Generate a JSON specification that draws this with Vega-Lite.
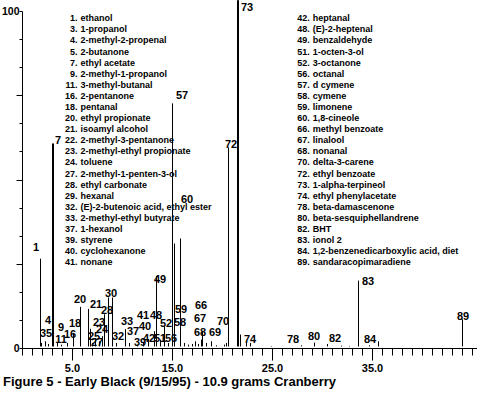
{
  "$schema": "https://vega.github.io/schema/vega-lite/v6.json",
  "width": 455,
  "height": 337,
  "autosize": {"type": "none"},
  "padding": {"left": 22, "top": 11, "right": 0, "bottom": 48},
  "background": "white",
  "config": {"view": {"stroke": null}, "font": "Liberation Sans"},
  "title": {
    "text": "Figure 5 - Early Black (9/15/95) - 10.9 grams Cranberry",
    "orient": "bottom", "anchor": "start", "frame": "group", "dx": -19, "offset": 3,
    "fontSize": 13, "fontWeight": "bold", "font": "Liberation Sans", "color": "black"
  },
  "datasets": {
    "legend": [
      {"col": 1, "row": 0, "num": "1.", "name": "ethanol"},
      {"col": 1, "row": 1, "num": "3.", "name": "1-propanol"},
      {"col": 1, "row": 2, "num": "4.", "name": "2-methyl-2-propenal"},
      {"col": 1, "row": 3, "num": "5.", "name": "2-butanone"},
      {"col": 1, "row": 4, "num": "7.", "name": "ethyl acetate"},
      {"col": 1, "row": 5, "num": "9.", "name": "2-methyl-1-propanol"},
      {"col": 1, "row": 6, "num": "11.", "name": "3-methyl-butanal"},
      {"col": 1, "row": 7, "num": "16.", "name": "2-pentanone"},
      {"col": 1, "row": 8, "num": "18.", "name": "pentanal"},
      {"col": 1, "row": 9, "num": "20.", "name": "ethyl propionate"},
      {"col": 1, "row": 10, "num": "21.", "name": "isoamyl alcohol"},
      {"col": 1, "row": 11, "num": "22.", "name": "2-methyl-3-pentanone"},
      {"col": 1, "row": 12, "num": "23.", "name": "2-methyl-ethyl propionate"},
      {"col": 1, "row": 13, "num": "24.", "name": "toluene"},
      {"col": 1, "row": 14, "num": "27.", "name": "2-methyl-1-penten-3-ol"},
      {"col": 1, "row": 15, "num": "28.", "name": "ethyl carbonate"},
      {"col": 1, "row": 16, "num": "29.", "name": "hexanal"},
      {"col": 1, "row": 17, "num": "32.", "name": "(E)-2-butenoic acid, ethyl ester"},
      {"col": 1, "row": 18, "num": "33.", "name": "2-methyl-ethyl butyrate"},
      {"col": 1, "row": 19, "num": "37.", "name": "1-hexanol"},
      {"col": 1, "row": 20, "num": "39.", "name": "styrene"},
      {"col": 1, "row": 21, "num": "40.", "name": "cyclohexanone"},
      {"col": 1, "row": 22, "num": "41.", "name": "nonane"},
      {"col": 2, "row": 0, "num": "42.", "name": "heptanal"},
      {"col": 2, "row": 1, "num": "48.", "name": "(E)-2-heptenal"},
      {"col": 2, "row": 2, "num": "49.", "name": "benzaldehyde"},
      {"col": 2, "row": 3, "num": "51.", "name": "1-octen-3-ol"},
      {"col": 2, "row": 4, "num": "52.", "name": "3-octanone"},
      {"col": 2, "row": 5, "num": "56.", "name": "octanal"},
      {"col": 2, "row": 6, "num": "57.", "name": "d cymene"},
      {"col": 2, "row": 7, "num": "58.", "name": "cymene"},
      {"col": 2, "row": 8, "num": "59.", "name": "limonene"},
      {"col": 2, "row": 9, "num": "60.", "name": "1,8-cineole"},
      {"col": 2, "row": 10, "num": "66.", "name": "methyl benzoate"},
      {"col": 2, "row": 11, "num": "67.", "name": "linalool"},
      {"col": 2, "row": 12, "num": "68.", "name": "nonanal"},
      {"col": 2, "row": 13, "num": "70.", "name": "delta-3-carene"},
      {"col": 2, "row": 14, "num": "72.", "name": "ethyl benzoate"},
      {"col": 2, "row": 15, "num": "73.", "name": "1-alpha-terpineol"},
      {"col": 2, "row": 16, "num": "74.", "name": "ethyl phenylacetate"},
      {"col": 2, "row": 17, "num": "78.", "name": "beta-damascenone"},
      {"col": 2, "row": 18, "num": "80.", "name": "beta-sesquiphellandrene"},
      {"col": 2, "row": 19, "num": "82.", "name": "BHT"},
      {"col": 2, "row": 20, "num": "83.", "name": "ionol 2"},
      {"col": 2, "row": 21, "num": "84.", "name": "1,2-benzenedicarboxylic acid, diet"},
      {"col": 2, "row": 22, "num": "89.", "name": "sandaracopimaradiene"}
    ],
    "peaks": [
      {"rt": 1.85, "h": 26.5}, {"rt": 1.95, "h": 1.5}, {"rt": 2.35, "h": 2.0}, {"rt": 2.65, "h": 1.2},
      {"rt": 3.05, "h": 60.7}, {"rt": 3.15, "h": 60.7}, {"rt": 3.55, "h": 1.5}, {"rt": 3.95, "h": 1.0},
      {"rt": 4.55, "h": 1.5}, {"rt": 5.15, "h": 4.5}, {"rt": 5.85, "h": 12.2}, {"rt": 6.65, "h": 11.6},
      {"rt": 6.85, "h": 5.7}, {"rt": 7.05, "h": 1.5}, {"rt": 7.35, "h": 2.5}, {"rt": 7.75, "h": 2.0},
      {"rt": 8.05, "h": 3.5}, {"rt": 8.25, "h": 10.0}, {"rt": 8.65, "h": 15.0}, {"rt": 9.05, "h": 15.0},
      {"rt": 9.45, "h": 1.5}, {"rt": 10.35, "h": 5.6}, {"rt": 10.75, "h": 1.5}, {"rt": 11.55, "h": 1.0},
      {"rt": 12.15, "h": 1.8}, {"rt": 12.65, "h": 2.5}, {"rt": 13.25, "h": 5.0}, {"rt": 13.45, "h": 21.4},
      {"rt": 13.85, "h": 2.5}, {"rt": 14.25, "h": 6.5}, {"rt": 14.65, "h": 1.5}, {"rt": 15.05, "h": 72.6},
      {"rt": 15.25, "h": 31.0}, {"rt": 15.85, "h": 32.5}, {"rt": 16.25, "h": 1.5}, {"rt": 16.65, "h": 1.0},
      {"rt": 17.05, "h": 1.2}, {"rt": 17.35, "h": 2.0}, {"rt": 17.65, "h": 1.2}, {"rt": 17.95, "h": 2.5},
      {"rt": 18.05, "h": 5.0}, {"rt": 18.45, "h": 1.5}, {"rt": 18.95, "h": 2.0}, {"rt": 19.45, "h": 0.8},
      {"rt": 20.25, "h": 1.0}, {"rt": 20.45, "h": 1.5}, {"rt": 20.65, "h": 59.5}, {"rt": 21.55, "h": 103.2},
      {"rt": 21.65, "h": 103.2}, {"rt": 21.85, "h": 4.0}, {"rt": 22.45, "h": 1.5}, {"rt": 22.85, "h": 1.5},
      {"rt": 24.95, "h": 0.6}, {"rt": 27.95, "h": 0.8}, {"rt": 29.25, "h": 1.6}, {"rt": 30.55, "h": 1.2},
      {"rt": 31.95, "h": 0.7}, {"rt": 32.75, "h": 0.6}, {"rt": 33.65, "h": 20.0}, {"rt": 34.75, "h": 0.8},
      {"rt": 35.65, "h": 2.0}, {"rt": 44.05, "h": 8.5}
    ],
    "labels": [
      {"id": "1", "rt": 1.4, "h": 29.7}, {"id": "7", "rt": 3.6, "h": 61.4}, {"id": "4", "rt": 2.6, "h": 8.0},
      {"id": "3", "rt": 2.1, "h": 4.2}, {"id": "5", "rt": 2.7, "h": 4.2}, {"id": "9", "rt": 3.9, "h": 5.9},
      {"id": "11", "rt": 3.9, "h": 2.4}, {"id": "16", "rt": 4.8, "h": 3.9}, {"id": "18", "rt": 5.3, "h": 7.1},
      {"id": "20", "rt": 5.8, "h": 14.2}, {"id": "21", "rt": 7.4, "h": 12.8}, {"id": "23", "rt": 7.7, "h": 7.4},
      {"id": "24", "rt": 8.0, "h": 5.3}, {"id": "25", "rt": 7.2, "h": 3.3}, {"id": "27", "rt": 7.5, "h": 1.5},
      {"id": "28", "rt": 8.5, "h": 11.0}, {"id": "30", "rt": 8.9, "h": 16.0}, {"id": "32", "rt": 9.6, "h": 3.3},
      {"id": "33", "rt": 10.5, "h": 7.7}, {"id": "37", "rt": 11.1, "h": 4.7}, {"id": "39", "rt": 11.8, "h": 1.5},
      {"id": "40", "rt": 12.3, "h": 6.2}, {"id": "41", "rt": 12.1, "h": 9.5}, {"id": "48", "rt": 13.4, "h": 9.5},
      {"id": "42", "rt": 12.7, "h": 2.7}, {"id": "49", "rt": 13.8, "h": 20.2}, {"id": "51", "rt": 13.8, "h": 2.7},
      {"id": "52", "rt": 14.4, "h": 7.1}, {"id": "56", "rt": 14.9, "h": 2.7}, {"id": "59", "rt": 15.9, "h": 11.3},
      {"id": "58", "rt": 15.8, "h": 7.4}, {"id": "60", "rt": 16.5, "h": 43.9}, {"id": "57", "rt": 16.0, "h": 74.8},
      {"id": "66", "rt": 17.9, "h": 12.5}, {"id": "67", "rt": 17.8, "h": 8.6}, {"id": "68", "rt": 17.8, "h": 4.5},
      {"id": "69", "rt": 19.3, "h": 4.5}, {"id": "70", "rt": 20.1, "h": 7.7}, {"id": "72", "rt": 20.9, "h": 60.2},
      {"id": "73", "rt": 22.5, "h": 100.9}, {"id": "74", "rt": 22.8, "h": 2.4}, {"id": "78", "rt": 27.1, "h": 2.4},
      {"id": "80", "rt": 29.2, "h": 3.3}, {"id": "82", "rt": 31.3, "h": 2.7}, {"id": "83", "rt": 34.6, "h": 19.6},
      {"id": "84", "rt": 34.8, "h": 2.4}, {"id": "89", "rt": 44.1, "h": 9.2}
    ]
  },
  "layer": [
    {
      "data": {"name": "legend"},
      "encoding": {
        "x": {"field": "col", "type": "quantitative", "scale": {"domain": [0.748, 2.7075], "nice": false, "zero": false}, "axis": null},
        "y": {"field": "row", "type": "quantitative", "scale": {"domain": [-0.658, 29.73], "nice": false, "zero": false, "reverse": true}, "axis": null}
      },
      "layer": [
        {"mark": {"type": "text", "align": "right", "baseline": "middle", "dx": -3, "font": "Liberation Sans", "fontWeight": "bold", "fontSize": 9, "color": "black"},
         "encoding": {"text": {"field": "num"}}},
        {"mark": {"type": "text", "align": "left", "baseline": "middle", "font": "Liberation Sans", "fontWeight": "bold", "fontSize": 9, "color": "black"},
         "encoding": {"text": {"field": "name"}}}
      ]
    },
    {
      "resolve": {"axis": {"x": "independent", "y": "independent"}},
      "layer": [
        {
          "data": {"name": "peaks"},
          "mark": {"type": "rule", "color": "black", "strokeWidth": 1},
          "encoding": {
            "x": {"field": "rt", "type": "quantitative", "scale": {"domain": [0, 45.5], "nice": false, "zero": false},
              "axis": {"orient": "bottom", "values": [0,1,2,3,4,5,6,7,8,9,10,11,12,13,14,15,16,17,18,19,20,21,22,23,24,25,26,27,28,29,30,31,32,33,34,35,36,37,38,39,40,41,42,43,44,45],
                "title": null, "grid": false, "labels": false, "tickSize": 7,
                "tickColor": "black", "domainColor": "black"}},
            "y": {"field": "h", "type": "quantitative", "scale": {"domain": [0, 100], "nice": false, "zero": false},
              "axis": {"orient": "left", "values": [0, 8.333, 16.667, 25, 33.333, 41.667, 50, 58.333, 66.667, 75, 83.333, 91.667, 100],
                "title": null, "grid": false, "tickSize": 3,
                "labelExpr": "datum.value == 0 ? '0' : (datum.value == 100 ? '100' : '')",
                "labelFont": "Liberation Sans", "labelFontWeight": "bold", "labelFontSize": 10.5, "labelColor": "black",
                "labelPadding": 0, "labelOverlap": false, "labelFlush": false, "labelBound": false,
                "tickColor": "black", "domainColor": "black"}},
            "y2": {"datum": 0.45}
          }
        },
        {
          "mark": {"type": "rule", "color": "black", "strokeWidth": 1},
          "encoding": {"y": {"datum": 0.45, "type": "quantitative", "axis": null}}
        },
        {
          "data": {"name": "labels"},
          "mark": {"type": "text", "align": "center", "baseline": "middle", "font": "Liberation Sans", "fontWeight": "bold", "fontSize": 11, "color": "black"},
          "encoding": {
            "x": {"field": "rt", "type": "quantitative",
              "axis": {"orient": "bottom", "values": [5, 15, 25, 35], "format": ".1f", "title": null, "grid": false, "domain": false,
                "tickSize": 12, "tickColor": "black",
                "labelFont": "Liberation Sans", "labelFontWeight": "bold", "labelFontSize": 11, "labelColor": "black",
                "labelPadding": 2, "labelOverlap": false, "labelFlush": false, "labelBound": false}},
            "y": {"field": "h", "type": "quantitative",
              "axis": {"orient": "left", "values": [25, 50, 75], "title": null, "grid": false, "domain": false, "labels": false,
                "tickSize": 6, "tickColor": "black"}},
            "text": {"field": "id"}
          }
        }
      ]
    }
  ],
  "resolve": {"scale": {"x": "independent", "y": "independent"}}
}
